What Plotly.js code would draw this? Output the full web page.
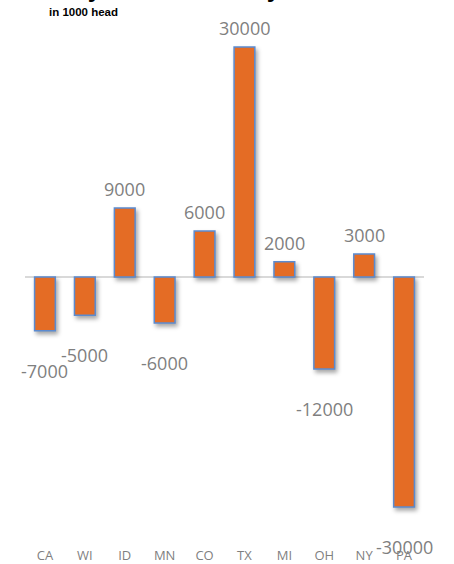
<!DOCTYPE html>
<html>
<head>
<meta charset="utf-8">
<script src="https://cdn.plot.ly/plotly-3.0.1.min.js"></script>
<style>
html,body{margin:0;padding:0;background:#fff;}
#chart{width:454px;height:564px;}
.bars .point path{filter:drop-shadow(2px 3px 2px rgba(0,0,0,0.35));}
</style>
</head>
<body>
<div id="chart"></div>
<script>
const states = ["CA","WI","ID","MN","CO","TX","MI","OH","NY","PA"];
const change = [-7000,-5000,9000,-6000,6000,30000,2000,-12000,3000,-30000];
const titleText = "Dairy Cow Inventory";
const unitText = "in 1000 head";

const labelAnns = states.map((s,i)=>({
  x: s, y: change[i], xref:'x', yref:'y',
  text: String(change[i]), showarrow:false,
  yshift: change[i] >= 0 ? 19 : -40,
  font:{family:'Open Sans, sans-serif', size:18, color:'#7f7f7f'}
}));

const anns = labelAnns.concat([
  {xref:'paper', yref:'paper', x:(37-25)/399, y:1, xanchor:'left', yanchor:'bottom', yshift:20,
   text:'<b>'+titleText+'</b>', showarrow:false,
   font:{family:'Liberation Sans, Arial, sans-serif', size:25, color:'#000'}},
  {xref:'paper', yref:'paper', x:(47-25)/399, y:1, xanchor:'left', yanchor:'middle', yshift:12,
   text:'<b>'+unitText+'</b>', showarrow:false,
   font:{family:'Liberation Sans, Arial, sans-serif', size:11.5, color:'#000'}}
]);

Plotly.newPlot('chart', [{
  type:'bar', x: states, y: change, width:0.52,
  marker:{color:'#e46c25', line:{color:'#5b8bd0', width:1.5}},
  hoverinfo:'none'
}], {
  width:454, height:564,
  margin:{l:25, r:30, t:24, b:34},
  paper_bgcolor:'#fff', plot_bgcolor:'#fff',
  showlegend:false,
  xaxis:{type:'category', range:[-0.5,9.5], automargin:false, showgrid:false, showline:false, ticks:'', ticklabelstandoff:16,
         tickfont:{family:'Open Sans, sans-serif', size:13, color:'#7f7f7f'}, fixedrange:true},
  yaxis:{range:[-33000,33000], automargin:false, showgrid:false, showticklabels:false, showline:false, ticks:'',
         zeroline:true, zerolinecolor:'#d9d9d9', zerolinewidth:1.5, fixedrange:true},
  annotations: anns
}, {displayModeBar:false, staticPlot:true});
</script>
</body>
</html>
